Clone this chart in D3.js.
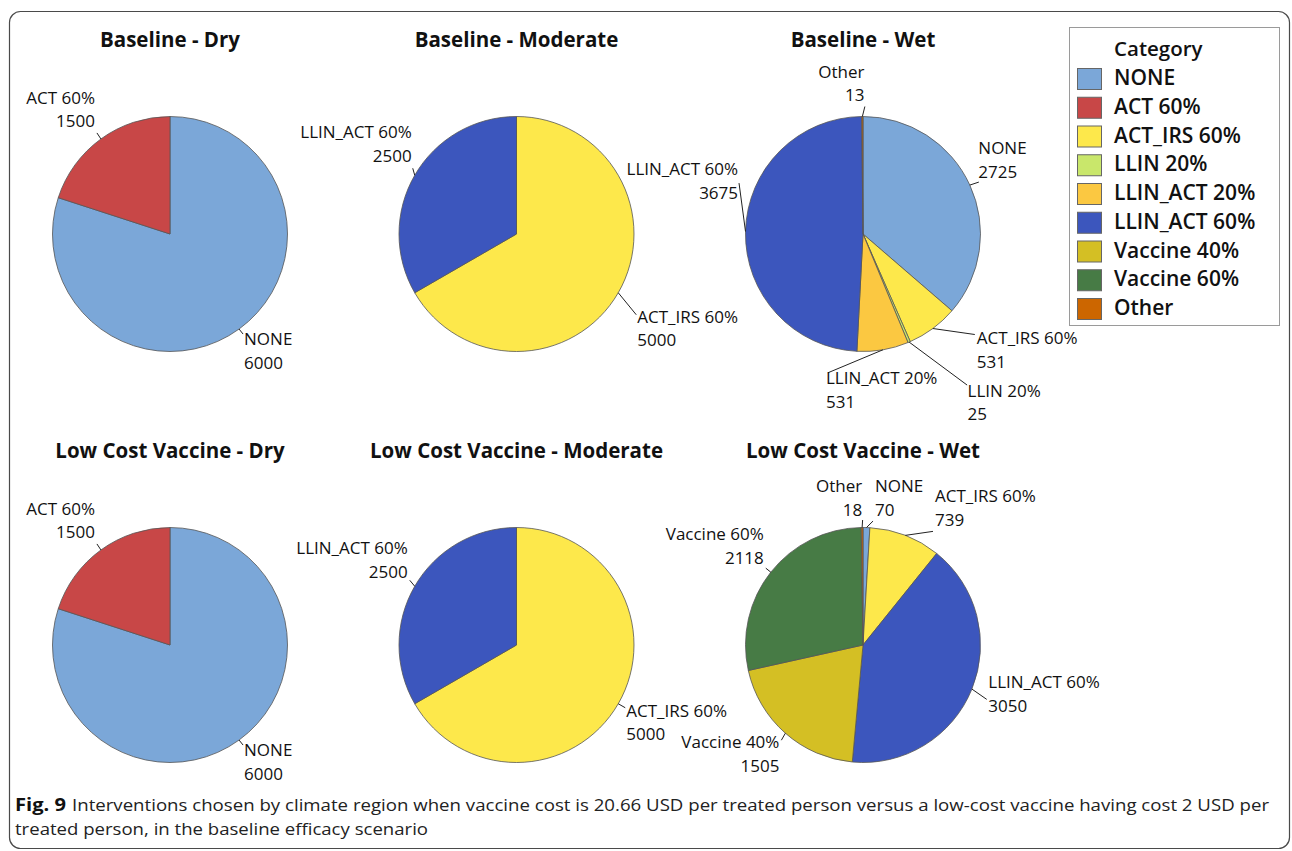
<!DOCTYPE html>
<html>
<head>
<meta charset="utf-8">
<script src="https://cdn.jsdelivr.net/npm/d3@7"></script>
<style>
  html, body { margin: 0; padding: 0; background: #fff; }
  svg { display: block; }
  text { font-family: "Open Sans", "Noto Sans", sans-serif; fill: #111; }
</style>
</head>
<body>
<svg id="chart" width="1292" height="851"></svg>
<script>
// ---------------- data ----------------
const categories = ["NONE", "ACT 60%", "ACT_IRS 60%", "LLIN 20%", "LLIN_ACT 20%", "LLIN_ACT 60%", "Vaccine 40%", "Vaccine 60%", "Other"];
const categoryColors = ["#7BA7D8", "#C84747", "#FDE84B", "#C9E76B", "#FBC841", "#3C56BD", "#D4BF24", "#477B45", "#CC6600"];

const baselineDry      = [6000, 1500, 0, 0, 0, 0, 0, 0, 0];
const baselineModerate = [0, 0, 5000, 0, 0, 2500, 0, 0, 0];
const baselineWet      = [2725, 0, 531, 25, 531, 3675, 0, 0, 13];
const lowCostDry       = [6000, 1500, 0, 0, 0, 0, 0, 0, 0];
const lowCostModerate  = [0, 0, 5000, 0, 0, 2500, 0, 0, 0];
const lowCostWet       = [70, 0, 739, 0, 0, 3050, 1505, 2118, 18];

const panelTitles = ["Baseline - Dry", "Baseline - Moderate", "Baseline - Wet",
                     "Low Cost Vaccine - Dry", "Low Cost Vaccine - Moderate", "Low Cost Vaccine - Wet"];
const panelValues = [baselineDry, baselineModerate, baselineWet, lowCostDry, lowCostModerate, lowCostWet];

const legendTitle = "Category";
const captionBold = "Fig. 9";
const captionLine1 = "Interventions chosen by climate region when vaccine cost is 20.66 USD per treated person versus a low-cost vaccine having cost 2 USD per";
const captionLine2 = "treated person, in the baseline efficacy scenario";

// ---------------- layout (label offsets from slice's arc midpoint) ----------------
const labelLayout = [
  { "ACT 60%": {dx: -6, dy: -35, a: "end", lx: -4, ly: -6},
    "NONE": {dx: 5, dy: 16, a: "start", lx: 4, ly: 5} },
  { "LLIN_ACT 60%": {dx: -3, dy: -37, a: "end", lx: -2, ly: -7},
    "ACT_IRS 60%": {dx: 19, dy: 30, a: "start", lx: 18, ly: 22} },
  { "NONE": {dx: 8.5, dy: -31, a: "start", lx: 9, ly: -3},
    "ACT_IRS 60%": {dx: 44, dy: 15.5, a: "start", lx: 42, ly: 6},
    "LLIN 20%": {dx: 58.5, dy: 54.5, a: "start", lx: 58, ly: 43},
    "LLIN_ACT 20%": {dx: -57, dy: 34.5, a: "start", lx: -55, ly: 23},
    "LLIN_ACT 60%": {dx: -7.5, dy: -56.5, a: "end", lx: -6.5, ly: -48.5},
    "Other": {dx: 2, dy: -39, a: "end", lx: 2.5, ly: -10} },
  { "ACT 60%": {dx: -6, dy: -35, a: "end", lx: -4, ly: -6},
    "NONE": {dx: 5, dy: 16, a: "start", lx: 4, ly: 5} },
  { "LLIN_ACT 60%": {dx: -7, dy: -32, a: "end", lx: -5, ly: -6},
    "ACT_IRS 60%": {dx: 8, dy: 13, a: "start", lx: 7, ly: 4} },
  { "NONE": {dx: 8.6, dy: -35.5, a: "start", lx: 6.6, ly: -6.5},
    "Other": {dx: 0, dy: -35.5, a: "end", lx: 0.5, ly: -7.5},
    "ACT_IRS 60%": {dx: 29.7, dy: -33, a: "start", lx: 27.7, ly: -4},
    "LLIN_ACT 60%": {dx: 16.4, dy: -0.7, a: "start", lx: 14.8, ly: 10.3},
    "Vaccine 40%": {dx: -6, dy: 15, a: "end", lx: -4, ly: 7},
    "Vaccine 60%": {dx: -7, dy: -32, a: "end", lx: -5, ly: -4} }
];

const W = 1292, H = 851;
const radius = 117.5;
const lineGap = 23.5;

const svg = d3.select("#chart");

// frame
svg.append("rect")
  .attr("x", 9.5).attr("y", 11.5)
  .attr("width", 1280).attr("height", 837)
  .attr("rx", 11).attr("ry", 11)
  .attr("fill", "none").attr("stroke", "#4a4a4a").attr("stroke-width", 1.2);

const colScale = d3.scalePoint().domain([0, 1, 2]).range([170, 863]);
const rowScale = d3.scalePoint().domain([0, 1]).range([234, 645]);
const color = d3.scaleOrdinal().domain(categories).range(categoryColors);

const pie = d3.pie().sort(null).value(d => d.value);
const arc = d3.arc().innerRadius(0).outerRadius(radius);

panelValues.forEach((vals, pi) => {
  const col = pi % 3, row = Math.floor(pi / 3);
  const cx = colScale(col), cy = rowScale(row);
  const g = svg.append("g").attr("transform", `translate(${cx},${cy})`);

  // title
  svg.append("text")
    .attr("x", cx).attr("y", cy - 187)
    .attr("text-anchor", "middle")
    .attr("font-size", 20.5).attr("font-weight", 700)
    .text(panelTitles[pi]);

  const data = categories.map((c, i) => ({category: c, value: vals[i]})).filter(d => d.value > 0);
  const arcs = pie(data);

  g.selectAll("path.slice").data(arcs).enter().append("path")
    .attr("class", "slice")
    .attr("d", arc)
    .attr("fill", d => color(d.data.category))
    .attr("stroke", "#555")
    .attr("stroke-width", 0.8)
    .attr("stroke-linejoin", "round");

  const layout = labelLayout[pi];
  arcs.forEach(d => {
    const L = layout[d.data.category];
    if (!L) return;
    const mid = (d.startAngle + d.endAngle) / 2;
    const px = radius * Math.sin(mid), py = -radius * Math.cos(mid);
    g.append("line")
      .attr("x1", px).attr("y1", py)
      .attr("x2", px + L.lx).attr("y2", py + L.ly)
      .attr("stroke", "#222").attr("stroke-width", 1);
    const t = g.append("text")
      .attr("text-anchor", L.a)
      .attr("font-size", 17);
    t.append("tspan").attr("x", px + L.dx).attr("y", py + L.dy).text(d.data.category);
    t.append("tspan").attr("x", px + L.dx).attr("y", py + L.dy + lineGap).text(d3.format("d")(d.data.value));
  });
});

// legend
const lg = svg.append("g");
lg.append("rect")
  .attr("x", 1069.5).attr("y", 27.5).attr("width", 210).attr("height", 298)
  .attr("fill", "#fff").attr("stroke", "#9a9a9a").attr("stroke-width", 1);
lg.append("text")
  .attr("x", 1114).attr("y", 55.5)
  .attr("font-size", 20.5).attr("font-weight", 600)
  .text(legendTitle);
const legendY = d3.scaleLinear().domain([0, categories.length - 1]).range([68, 298]);
categories.forEach((c, i) => {
  lg.append("rect")
    .attr("x", 1077.5).attr("y", legendY(i) + 0.5).attr("width", 24).attr("height", 21)
    .attr("fill", color(c)).attr("stroke", "#666").attr("stroke-width", 1);
  lg.append("text")
    .attr("x", 1114).attr("y", legendY(i) + 17)
    .attr("font-size", 21).attr("font-weight", 600)
    .text(c);
});

// caption
svg.append("text")
  .attr("x", 15).attr("y", 811)
  .attr("font-size", 17.5).attr("font-weight", 700)
  .attr("textLength", 51).attr("lengthAdjust", "spacingAndGlyphs")
  .text(captionBold);
svg.append("text")
  .attr("x", 72).attr("y", 811)
  .attr("font-size", 17)
  .attr("textLength", 1197).attr("lengthAdjust", "spacingAndGlyphs")
  .style("fill", "#222")
  .text(captionLine1);
svg.append("text")
  .attr("x", 15).attr("y", 835)
  .attr("font-size", 17)
  .attr("textLength", 413).attr("lengthAdjust", "spacingAndGlyphs")
  .style("fill", "#222")
  .text(captionLine2);
</script>
</body>
</html>
